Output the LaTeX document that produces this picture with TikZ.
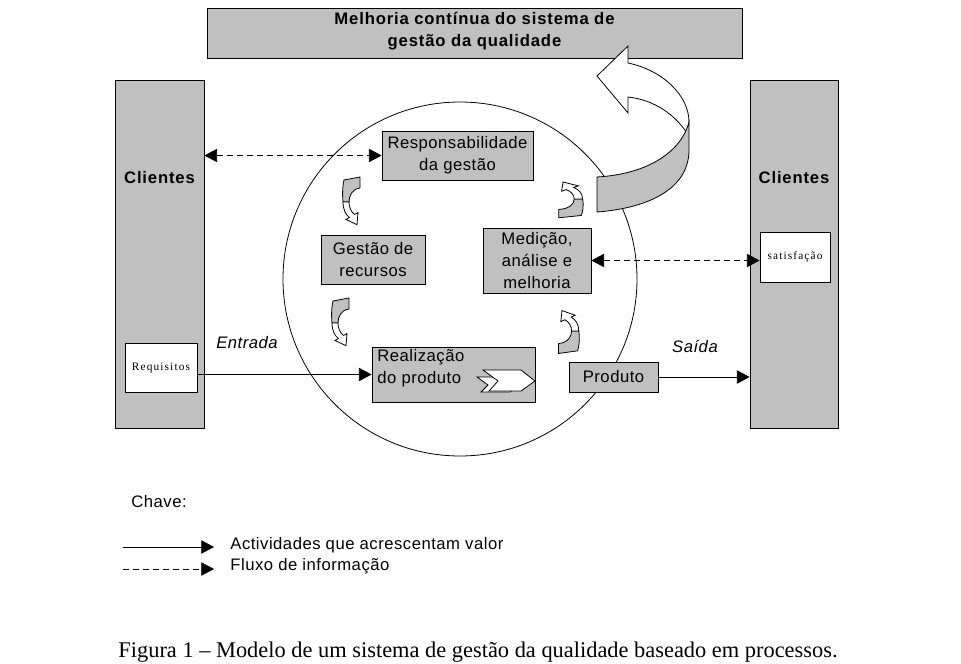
\documentclass[tikz,border=0pt]{standalone}
\usepackage{fontspec}
\usetikzlibrary{arrows.meta}
\newfontfamily\arialf{Liberation Sans}[LetterSpace=3]
\newfontfamily\arialbf{Liberation Sans Bold}[LetterSpace=5]
\newfontfamily\timesf{Liberation Serif}
\newfontfamily\timessp{Liberation Serif}[LetterSpace=10]
\definecolor{cinza}{RGB}{192,192,192}

\begin{document}
\begin{tikzpicture}[x=0.75pt,y=-0.75pt,semithick,
    caixa/.style={draw,fill=cinza,inner sep=0pt,align=center,font=\arialf\fontsize{12.5pt}{16.5pt}\selectfont},
    branca/.style={draw,fill=white,inner sep=0pt,font=\timessp\fontsize{8.5pt}{10pt}\selectfont},
    texto/.style={inner sep=0pt,font=\arialf\fontsize{12.5pt}{16.5pt}\selectfont},
    negrito/.style={inner sep=0pt,align=center,font=\arialbf\fontsize{12.5pt}{16.5pt}\selectfont},
    tracejado/.style={dash pattern=on 4.5pt off 3pt},
    seta/.style={-{Triangle[length=9.5pt,width=10pt]}},
    setas/.style={{Triangle[length=9.5pt,width=10pt]}-{Triangle[length=9.5pt,width=10pt]}},
    volta/.pic={
      \filldraw[fill=cinza] (-8,-22) -- (8,-25) -- (8,-14) .. controls (0,-13) and (-3,-6) .. (-3,0)
        -- (-9,0) .. controls (-10,-10) and (-9,-18) .. (-8,-22) -- cycle;
      \filldraw[fill=white] (-9,0) .. controls (-9,8) and (-6,13) .. (-2.6,15.5) -- (-6,17.5)
        -- (5,22.7) -- (6,10.5) -- (2.6,12.5) .. controls (-1,10) and (-3,5) .. (-3,0) -- cycle;
    }]
  \useasboundingbox (0,0) rectangle (961,664);

  % Circle of the process
  \draw (460,279) circle[radius=132.75pt];

  % Top box
  \node[caixa,minimum width=401.25pt,minimum height=37.5pt] (melhoria) at (474.5,33) {};
  \node[negrito] (melhorialbl) at (474.5,31) {Melhoria contínua do sistema de\\gestão da qualidade};

  % Big turning arrow
  \filldraw[fill=white] (597,76) -- (628,46) -- (628,63) .. controls (662,70) and (689,95) .. (689,122)
    -- (687,133) .. controls (675,115) and (655,100) .. (628,97) -- (628,113) -- cycle;
  \filldraw[fill=cinza] (689,122) .. controls (682,150) and (650,174) .. (597,177) -- (597,212)
    .. controls (650,208) and (689,188) .. (689,150) -- cycle;

  % Clients
  \node[caixa,minimum width=66.75pt,minimum height=261pt] (cliesq) at (159.5,254) {};
  \node[negrito] (cliesqlbl) at (159.5,178) {Clientes};
  \node[caixa,minimum width=66pt,minimum height=261pt] (clidir) at (794,254) {};
  \node[negrito] (clidirlbl) at (794,178) {Clientes};
  \node[branca,minimum width=54pt,minimum height=36.75pt] (req) at (161,367.5) {Requisitos};
  \node[branca,minimum width=52.5pt,minimum height=37.5pt] (sat) at (795,257) {satisfação};

  % Process boxes
  \node[caixa,minimum width=113.25pt,minimum height=36.75pt] (resp) at (457.5,155.5) {Responsabilidade\\da gestão};
  \node[caixa,minimum width=78pt,minimum height=36.75pt] (recursos) at (373,259.5) {Gestão de\\recursos};
  \node[caixa,minimum width=81pt,minimum height=48.75pt] (med) at (537,260.5) {Medição,\\análise e\\melhoria};
  \node[caixa,minimum width=122.25pt,minimum height=41.25pt] (real) at (453.5,374.5) {};
  \node[texto,anchor=west,align=left] (reallbl) at (377,368) {Realização\\do produto};
  \node[caixa,minimum width=66.75pt,minimum height=22.5pt] (prod) at (613.5,377) {Produto};

  % Chevrons
  \filldraw[fill=white] (477,377) -- (510,377) -- (519,385) -- (510,392) -- (481,392) -- (488,385) -- cycle;
  \filldraw[fill=white] (483,370) -- (521,370) -- (535,381) -- (521,391) -- (489,391) -- (498,381) -- cycle;

  % Small turning arrows
  \pic at (352,202) {volta};
  \pic at (341,323) {volta};
  \pic[rotate=180,xscale=1.4,yscale=0.75] at (570,199) {volta};
  \pic[rotate=180,xscale=1.2,yscale=0.9] at (568,331) {volta};

  % Flows
  \draw[setas,tracejado] (cliesq.east |- resp.west) -- (resp.west);
  \draw[setas,tracejado] (med.east) -- (med.east -| sat.west);
  \draw[seta] (req.east |- real.west) -- (real.west);
  \draw[seta] (prod.east) -- (prod.east -| clidir.west);
  \node[texto,font=\arialf\itshape\fontsize{12.5pt}{15pt}\selectfont] (entrada) at (247,343) {Entrada};
  \node[texto,font=\arialf\itshape\fontsize{12.5pt}{15pt}\selectfont] (saida) at (695,346) {Saída};

  % Key
  \node[texto,anchor=west] (chave) at (131,502) {Chave:};
  \coordinate (k1a) at (123,547);
  \coordinate (k1b) at (214,547);
  \coordinate (k2a) at (123,569);
  \coordinate (k2b) at (214,569);
  \draw[seta] (k1a) -- (k1b);
  \draw[seta,tracejado] (k2a) -- (k2b);
  \node[texto,anchor=west] (valor) at (230,545) {Actividades que acrescentam valor};
  \node[texto,anchor=west] (fluxo) at (230,566) {Fluxo de informação};

  % Caption
  \node[inner sep=0pt,font=\timesf\fontsize{16.8pt}{18pt}\selectfont] (legenda) at (478,652) {Figura 1 – Modelo de um sistema de gestão da qualidade baseado em processos.};
\end{tikzpicture}
\end{document}
